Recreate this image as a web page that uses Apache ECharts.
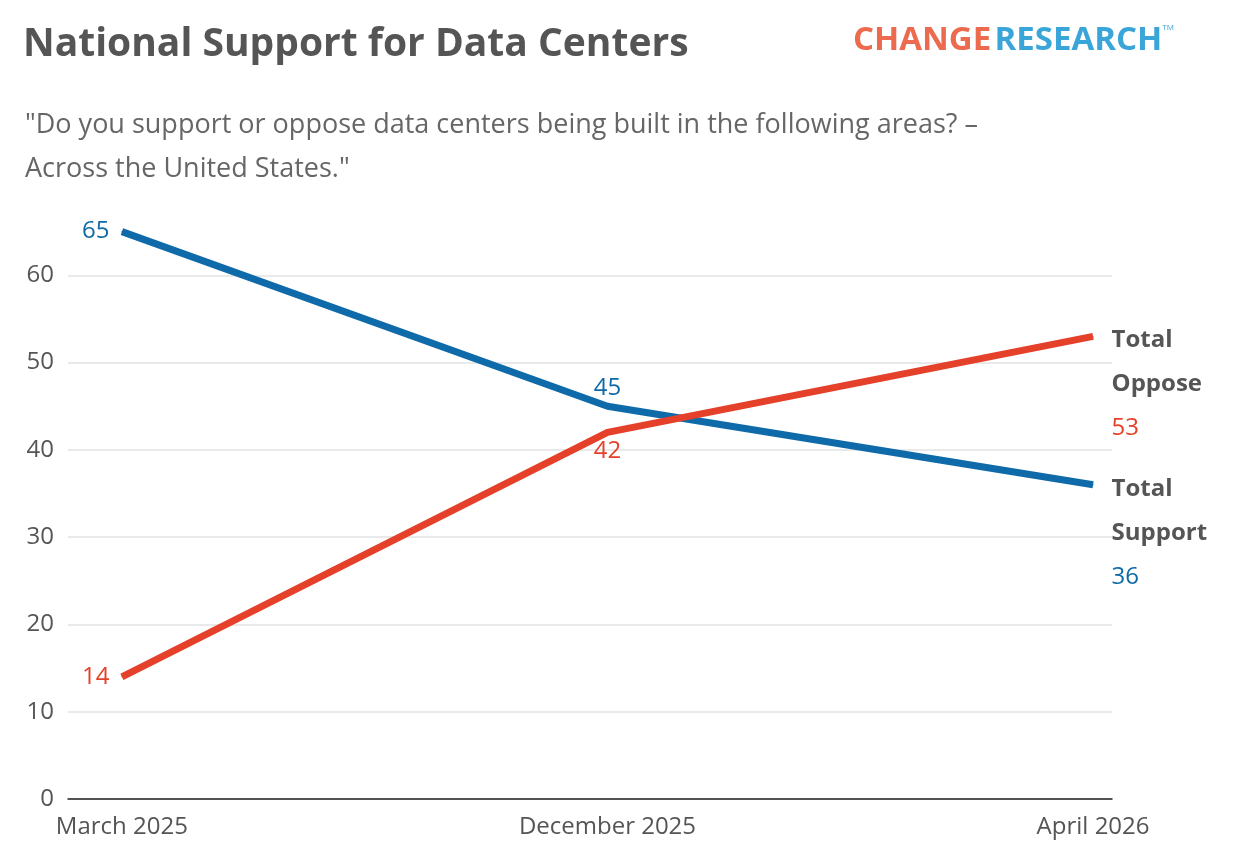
<!DOCTYPE html><html><head><meta charset="utf-8"><script src="https://cdn.jsdelivr.net/npm/echarts@6/dist/echarts.min.js"></script>
<style>html,body{margin:0;background:#fff}#c{width:1240px;height:866px}</style></head><body><div id="c"></div><script>
const categories=["March 2025","December 2025","April 2026"];
const support=[65,45,36];
const oppose=[14,42,53];
const yTicks=[0,10,20,30,40,50,60];
const F="'Open Sans', sans-serif";
const chart=echarts.init(document.getElementById('c'));
function mk(vals,color,name1,name2,pos){
 return vals.map((v,i)=>{
  const d={value:[i,v]};
  if(i===vals.length-1){d.label={show:true,position:'right',distance:18,offset:[0,48],formatter:'{n|'+name1+'}\n{n|'+name2+'}\n{v|'+v+'}',rich:{n:{fontFamily:F,fontWeight:'bold',fontSize:24,color:'#555',lineHeight:44},v:{fontFamily:F,fontSize:24,color:color,lineHeight:44}}};}
  else{d.label={show:true,position:pos[i],distance:pos[i]==='left'?12:6,fontFamily:F,fontSize:24,color:color,formatter:String(v)};}
  return d;});
}
chart.setOption({
 animation:false,
 grid:{left:68,right:128,top:188,bottom:67},
 title:[{text:'National Support for Data Centers',left:18,top:20,textStyle:{fontFamily:F,fontWeight:'bold',fontSize:39,color:'#555'}},
  {text:'"Do you support or oppose data centers being built in the following areas? –\nAcross the United States."',left:20,top:98,textStyle:{fontFamily:F,fontWeight:'normal',fontSize:27,color:'#666',lineHeight:44}}],
 graphic:[{type:'text',left:853,top:24,style:{text:'{a|CHANGE} {b|RESEARCH}{t|TM}',rich:{a:{fontFamily:F,fontWeight:'bold',fontSize:33,fill:'#ec6a4e'},b:{fontFamily:F,fontWeight:'bold',fontSize:33,fill:'#3aa5d8'},t:{fontFamily:F,fontSize:8,fill:'#3aa5d8',verticalAlign:'top',padding:[0,0,22,0]}}}}],
 xAxis:{type:'value',min:-0.111,max:2.039,splitLine:{show:false},axisTick:{show:false},
  axisLine:{show:true,lineStyle:{color:'#222',width:1.5}},
  axisLabel:{customValues:[0,1,2],formatter:v=>categories[Math.round(v)],fontFamily:F,fontSize:24,color:'#555',margin:16}},
 yAxis:{type:'value',min:0,max:70,interval:10,
  axisLabel:{customValues:yTicks,fontFamily:F,fontSize:24,color:'#555',margin:14},
  splitLine:{showMaxLine:false,lineStyle:{color:'#e2e2e2',width:1.5}},axisLine:{show:false},axisTick:{show:false}},
 series:[
  {type:'line',data:mk(support,'#0e6aa8','Total','Support',['left','top']),symbol:'circle',symbolSize:1,showSymbol:true,itemStyle:{color:'#0e6aa8'},lineStyle:{color:'#0e6aa8',width:7},z:2},
  {type:'line',data:mk(oppose,'#e5402a','Total','Oppose',['left','bottom']),symbol:'circle',symbolSize:1,showSymbol:true,itemStyle:{color:'#e5402a'},lineStyle:{color:'#e5402a',width:7},z:3}
 ]
});
</script></body></html>
